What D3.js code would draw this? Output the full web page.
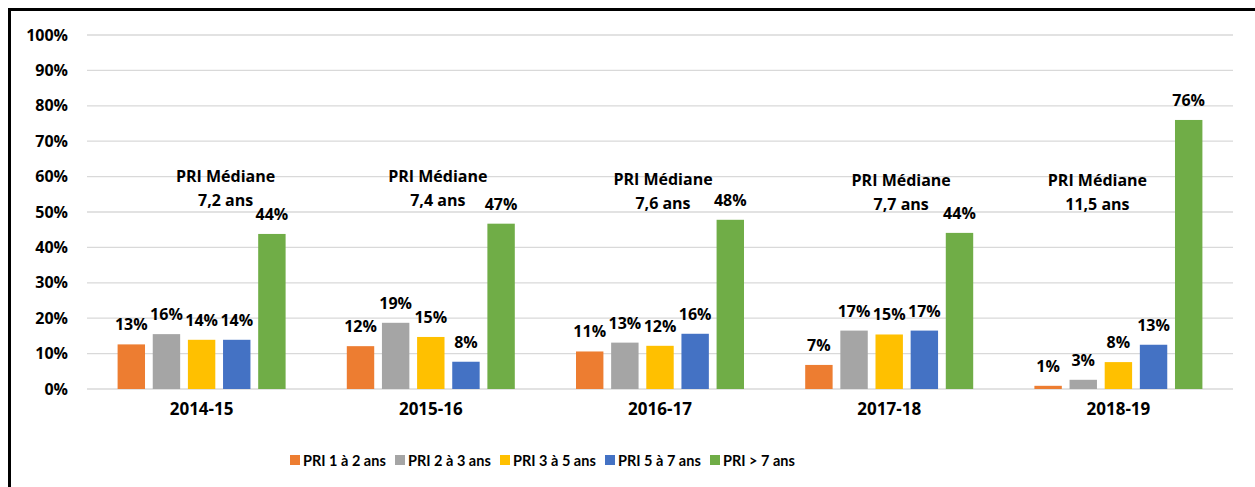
<!DOCTYPE html>
<html>
<head>
<meta charset="utf-8">
<script src="https://cdn.jsdelivr.net/npm/d3@7"></script>
<style>
  body { margin: 0; background: #fff; }
  text { font-family: "Open Sans", Lato, sans-serif; font-weight: bold; fill: #000; }
</style>
</head>
<body>
<div id="chart"></div>
<script>
// data
var years = ["2014-15", "2015-16", "2016-17", "2017-18", "2018-19"];
var seriesNames = ["PRI 1 à 2 ans", "PRI 2 à 3 ans", "PRI 3 à 5 ans", "PRI 5 à 7 ans", "PRI > 7 ans"];
var pri1a2 = [12.6, 12.1, 10.6, 6.8, 0.9];
var pri2a3 = [15.5, 18.7, 13.1, 16.5, 2.6];
var pri3a5 = [13.9, 14.7, 12.2, 15.4, 7.6];
var pri5a7 = [13.9, 7.7, 15.6, 16.5, 12.5];
var pri7plus = [43.8, 46.7, 47.8, 44.1, 76.0];
var medianLabels = ["7,2 ans", "7,4 ans", "7,6 ans", "7,7 ans", "11,5 ans"];
var yTicks = [0, 10, 20, 30, 40, 50, 60, 70, 80, 90, 100];

var colors = ["#ED7D31", "#A5A5A5", "#FFC000", "#4472C4", "#70AD47"];
var allSeries = [pri1a2, pri2a3, pri3a5, pri5a7, pri7plus];

var svgWidth = 1255;
var svgHeight = 487;
var margin = { top: 35, right: 22, bottom: 98, left: 87 };
var width = svgWidth - margin.left - margin.right;
var height = svgHeight - margin.top - margin.bottom;

// annotation placement tweaks (per group, px)
var medianDx = [24, 7, 3, 12, -21];
var medianDy = [0, 0, 3, 4, 4];

var svg = d3.select("#chart")
    .append("svg")
    .attr("width", svgWidth)
    .attr("height", svgHeight);

// frame
svg.append("rect")
    .attr("x", 9.5)
    .attr("y", 9.5)
    .attr("width", svgWidth + 20)
    .attr("height", svgHeight + 20)
    .attr("fill", "none")
    .attr("stroke", "#000")
    .attr("stroke-width", 3);

var chartGroup = svg.append("g")
    .attr("transform", `translate(${margin.left}, ${margin.top})`);

var x0 = d3.scaleBand()
    .domain(years)
    .range([0, width])
    .paddingInner(0.267)
    .paddingOuter(0.1335);

var x1 = d3.scaleBand()
    .domain(seriesNames)
    .range([0, x0.bandwidth()])
    .paddingInner(0.22);

var yScale = d3.scaleLinear()
    .domain([0, 100])
    .range([height, 0]);

// gridlines
chartGroup.selectAll("line.grid")
    .data(yTicks)
    .enter()
    .append("line")
    .attr("class", "grid")
    .attr("x1", 0)
    .attr("x2", width)
    .attr("y1", d => yScale(d))
    .attr("y2", d => yScale(d))
    .attr("stroke", "#D9D9D9")
    .attr("stroke-width", 1.3);

// y axis labels
var leftAxis = d3.axisLeft(yScale)
    .tickValues(yTicks)
    .tickFormat(d => d + "%")
    .tickSize(0)
    .tickPadding(19);

var yAxisG = chartGroup.append("g").call(leftAxis);
yAxisG.select(".domain").remove();
yAxisG.selectAll("text")
    .style("font-size", "16px")
    .style("font-family", "'Open Sans', sans-serif")
    .style("font-weight", "bold")
    .attr("fill", "#000");

// x axis labels
var bottomAxis = d3.axisBottom(x0).tickSize(0).tickPadding(14);
var xAxisG = chartGroup.append("g")
    .attr("transform", `translate(0, ${height})`)
    .call(bottomAxis);
xAxisG.select(".domain").remove();
xAxisG.selectAll("text")
    .style("font-size", "17px")
    .style("font-family", "'Open Sans', sans-serif")
    .style("font-weight", "bold")
    .attr("fill", "#000");

// bars
var groups = chartGroup.selectAll("g.year")
    .data(years)
    .enter()
    .append("g")
    .attr("class", "year")
    .attr("transform", d => `translate(${x0(d)}, 0)`);

groups.each(function(year, gi) {
    var g = d3.select(this);
    var vals = allSeries.map((s, si) => ({ name: seriesNames[si], value: s[gi], color: colors[si] }));

    g.selectAll("rect")
        .data(vals)
        .enter()
        .append("rect")
        .attr("x", d => x1(d.name))
        .attr("y", d => yScale(d.value))
        .attr("width", x1.bandwidth())
        .attr("height", d => height - yScale(d.value))
        .attr("fill", d => d.color);

    g.selectAll("text.val")
        .data(vals)
        .enter()
        .append("text")
        .attr("class", "val")
        .attr("x", d => x1(d.name) + x1.bandwidth() / 2)
        .attr("y", d => yScale(d.value) - 14)
        .attr("text-anchor", "middle")
        .style("font-size", "16px")
        .text(d => Math.round(d.value) + "%");
});

// median annotations
var med = chartGroup.selectAll("g.median")
    .data(medianLabels)
    .enter()
    .append("g")
    .attr("class", "median")
    .attr("transform", (d, i) => `translate(${x0(years[i]) + x0.bandwidth() / 2 + medianDx[i]}, ${yScale(58.5) + medianDy[i]})`);

med.append("text")
    .attr("text-anchor", "middle")
    .style("font-size", "16px")
    .text("PRI Médiane");

med.append("text")
    .attr("text-anchor", "middle")
    .attr("y", 24)
    .style("font-size", "16px")
    .text(d => d);

// legend
var legend = svg.append("g")
    .attr("transform", "translate(290, 455)");

var legendItem = legend.selectAll("g")
    .data(seriesNames)
    .enter()
    .append("g")
    .attr("transform", (d, i) => `translate(${i * 105}, 0)`);

legendItem.append("rect")
    .attr("width", 10)
    .attr("height", 10)
    .attr("y", 0)
    .attr("fill", (d, i) => colors[i]);

legendItem.append("text")
    .attr("x", 13)
    .attr("y", 10.5)
    .style("font-family", "Lato, sans-serif")
    .style("font-size", "14.5px")
    .text(d => d);
</script>
</body>
</html>
